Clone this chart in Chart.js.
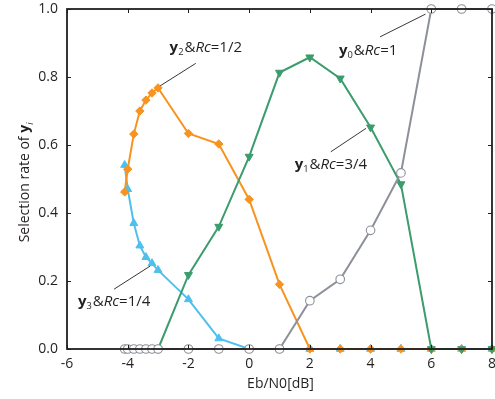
<!DOCTYPE html>
<html>
<head>
<meta charset="utf-8">
<script src="https://cdn.jsdelivr.net/npm/chart.js@4/dist/chart.umd.min.js"></script>
<style>
  html, body { margin: 0; padding: 0; background: #fff; }
  #wrap { width: 495px; height: 399px; }
</style>
</head>
<body>
<div id="wrap"><canvas id="chart"></canvas></div>
<script>
// Eb/N0 grid shared by every curve
const ebN0 = [-4.1, -4.0, -3.8, -3.6, -3.4, -3.2, -3.0, -2, -1, 0, 1, 2, 3, 4, 5, 6, 7, 8];

// selection rate of each y_i
const rateY0 = [0, 0, 0, 0, 0, 0, 0, 0, 0, 0, 0, 0.142, 0.205, 0.349, 0.518, 1, 1, 1];
const rateY1 = [null, null, null, null, null, null, 0, 0.218, 0.36, 0.566, 0.813, 0.858, 0.796, 0.652, 0.485, 0, 0, 0];
const rateY2 = [0.462, 0.529, 0.632, 0.7, 0.732, 0.753, 0.768, 0.634, 0.603, 0.44, 0.19, 0, 0, 0, 0, 0, 0, 0];
const rateY3 = [0.541, 0.47, 0.37, 0.304, 0.27, 0.252, 0.232, 0.146, 0.031, 0, 0, 0, 0, 0, 0, 0, 0, 0];

const xTicks = [-6, -4, -2, 0, 2, 4, 6, 8];
const yTicks = [0, 0.2, 0.4, 0.6, 0.8, 1.0];

// callouts: text anchor and leader line in data units
const notes = [
  { sub: '2', rc: '1/2', at: [-2.62, 0.891], from: [-1.76, 0.84], to: [-2.93, 0.774] },
  { sub: '0', rc: '1',   at: [2.96, 0.882],  from: [4.31, 0.918], to: [5.81, 0.985] },
  { sub: '1', rc: '3/4', at: [1.5, 0.547],   from: [2.69, 0.58],  to: [3.85, 0.649] },
  { sub: '3', rc: '1/4', at: [-5.64, 0.144], from: [-4.45, 0.176], to: [-3.26, 0.244] }
];

const FONT = '"Open Sans", "Noto Sans", sans-serif';
const INK = '#231f20';

function pts(arr) {
  return ebN0.map((x, i) => ({ x: x, y: arr[i] }));
}

// draws a run of styled pieces, left to right, from (x, y) on the baseline
function richText(ctx, x, y, parts, size) {
  ctx.textBaseline = 'alphabetic';
  ctx.textAlign = 'left';
  parts.forEach(p => {
    const s = p.sub ? size * 0.62 : size;
    ctx.font = (p.italic ? 'italic ' : '') + (p.bold ? 'bold ' : '') + s + 'px ' + FONT;
    ctx.fillText(p.t, x, y + (p.sub ? size * 0.25 : 0));
    x += ctx.measureText(p.t).width + (p.sub ? 1 : 0);
  });
  return x;
}

function richWidth(ctx, parts, size) {
  let w = 0;
  parts.forEach(p => {
    const s = p.sub ? size * 0.62 : size;
    ctx.font = (p.italic ? 'italic ' : '') + (p.bold ? 'bold ' : '') + s + 'px ' + FONT;
    w += ctx.measureText(p.t).width + (p.sub ? 1 : 0);
  });
  return w;
}

const framePlugin = {
  id: 'frame',
  afterDatasetsDraw(chart) {
    const { ctx, chartArea: a, scales } = chart;
    ctx.save();
    ctx.strokeStyle = INK;
    ctx.lineWidth = 1.8;
    ctx.strokeRect(a.left, a.top, a.right - a.left, a.bottom - a.top);
    ctx.lineWidth = 1;
    ctx.beginPath();
    xTicks.forEach(v => {
      const px = Math.round(scales.x.getPixelForValue(v)) + 0.5;
      ctx.moveTo(px, a.bottom); ctx.lineTo(px, a.bottom - 4);
      ctx.moveTo(px, a.top); ctx.lineTo(px, a.top + 4);
    });
    yTicks.forEach(v => {
      const py = Math.round(scales.y.getPixelForValue(v)) + 0.5;
      ctx.moveTo(a.left, py); ctx.lineTo(a.left + 4, py);
      ctx.moveTo(a.right, py); ctx.lineTo(a.right - 4, py);
    });
    ctx.stroke();

    // callouts
    ctx.fillStyle = INK;
    notes.forEach(n => {
      ctx.beginPath();
      ctx.lineWidth = 0.9;
      ctx.moveTo(scales.x.getPixelForValue(n.from[0]), scales.y.getPixelForValue(n.from[1]));
      ctx.lineTo(scales.x.getPixelForValue(n.to[0]), scales.y.getPixelForValue(n.to[1]));
      ctx.stroke();
      const parts = [
        { t: 'y', bold: true }, { t: n.sub, sub: true },
        { t: '&' }, { t: 'Rc', italic: true }, { t: '=' + n.rc }
      ];
      richText(ctx, scales.x.getPixelForValue(n.at[0]),
        scales.y.getPixelForValue(n.at[1]) + 5.5, parts, 15);
    });

    // axis titles
    ctx.font = '14px ' + FONT;
    ctx.textAlign = 'center';
    ctx.textBaseline = 'middle';
    ctx.fillText('Eb/N0[dB]', (a.left + a.right) / 2 + 1, 384);

    const yParts = [{ t: 'Selection rate of ' }, { t: 'y', bold: true }, { t: 'i', sub: true, italic: true }];
    ctx.translate(24, (a.top + a.bottom) / 2 + 3);
    ctx.rotate(-Math.PI / 2);
    const w = richWidth(ctx, yParts, 14);
    richText(ctx, -w / 2, 5, yParts, 14);
    ctx.restore();
  }
};

const lineStyle = (color) => ({
  borderColor: color,
  backgroundColor: color,
  borderWidth: 2,
  pointRadius: 4,
  pointHoverRadius: 4,
  pointBorderWidth: 1,
  tension: 0,
  showLine: true,
  spanGaps: false,
  clip: false
});

const noPad = s => {
  s.paddingLeft = 0; s.paddingRight = 0; s.paddingTop = 0; s.paddingBottom = 0;
};

new Chart(document.getElementById('chart'), {
  type: 'line',
  data: {
    datasets: [
      Object.assign(lineStyle('#8c9099'), {
        label: 'y0 & Rc=1', data: pts(rateY0), order: 0,
        pointStyle: 'circle', pointBackgroundColor: '#ffffff', pointRadius: 4.3, pointBorderWidth: 1.1
      }),
      Object.assign(lineStyle('#3c9c6d'), {
        label: 'y1 & Rc=3/4', data: pts(rateY1), order: 1,
        pointStyle: 'triangle', pointRotation: 180, pointRadius: 4.6
      }),
      Object.assign(lineStyle('#f7931e'), {
        label: 'y2 & Rc=1/2', data: pts(rateY2), order: 2,
        pointStyle: 'rectRot', pointRadius: 4.2
      }),
      Object.assign(lineStyle('#4fc0ee'), {
        label: 'y3 & Rc=1/4', data: pts(rateY3), order: 3,
        pointStyle: 'triangle', pointRadius: 4.6
      })
    ]
  },
  options: {
    responsive: true,
    maintainAspectRatio: false,
    animation: false,
    events: [],
    layout: { autoPadding: false, padding: { left: 0, right: 3, top: 9, bottom: 0 } },
    plugins: { legend: { display: false }, tooltip: { enabled: false } },
    scales: {
      x: {
        type: 'linear', min: -6, max: 8,
        afterFit: s => { s.height = 50; noPad(s); },
        afterBuildTicks: s => { s.ticks = xTicks.map(v => ({ value: v })); },
        grid: { display: false, drawTicks: false },
        border: { display: false },
        ticks: { color: INK, padding: 7, font: { family: FONT, size: 14 }, callback: v => String(v) }
      },
      y: {
        type: 'linear', min: 0, max: 1,
        afterFit: s => { s.width = 67; noPad(s); },
        afterBuildTicks: s => { s.ticks = yTicks.map(v => ({ value: v })); },
        grid: { display: false, drawTicks: false },
        border: { display: false },
        ticks: { color: INK, padding: 9, font: { family: FONT, size: 14 }, callback: v => v.toFixed(1) }
      }
    }
  },
  plugins: [framePlugin]
});
</script>
</body>
</html>
